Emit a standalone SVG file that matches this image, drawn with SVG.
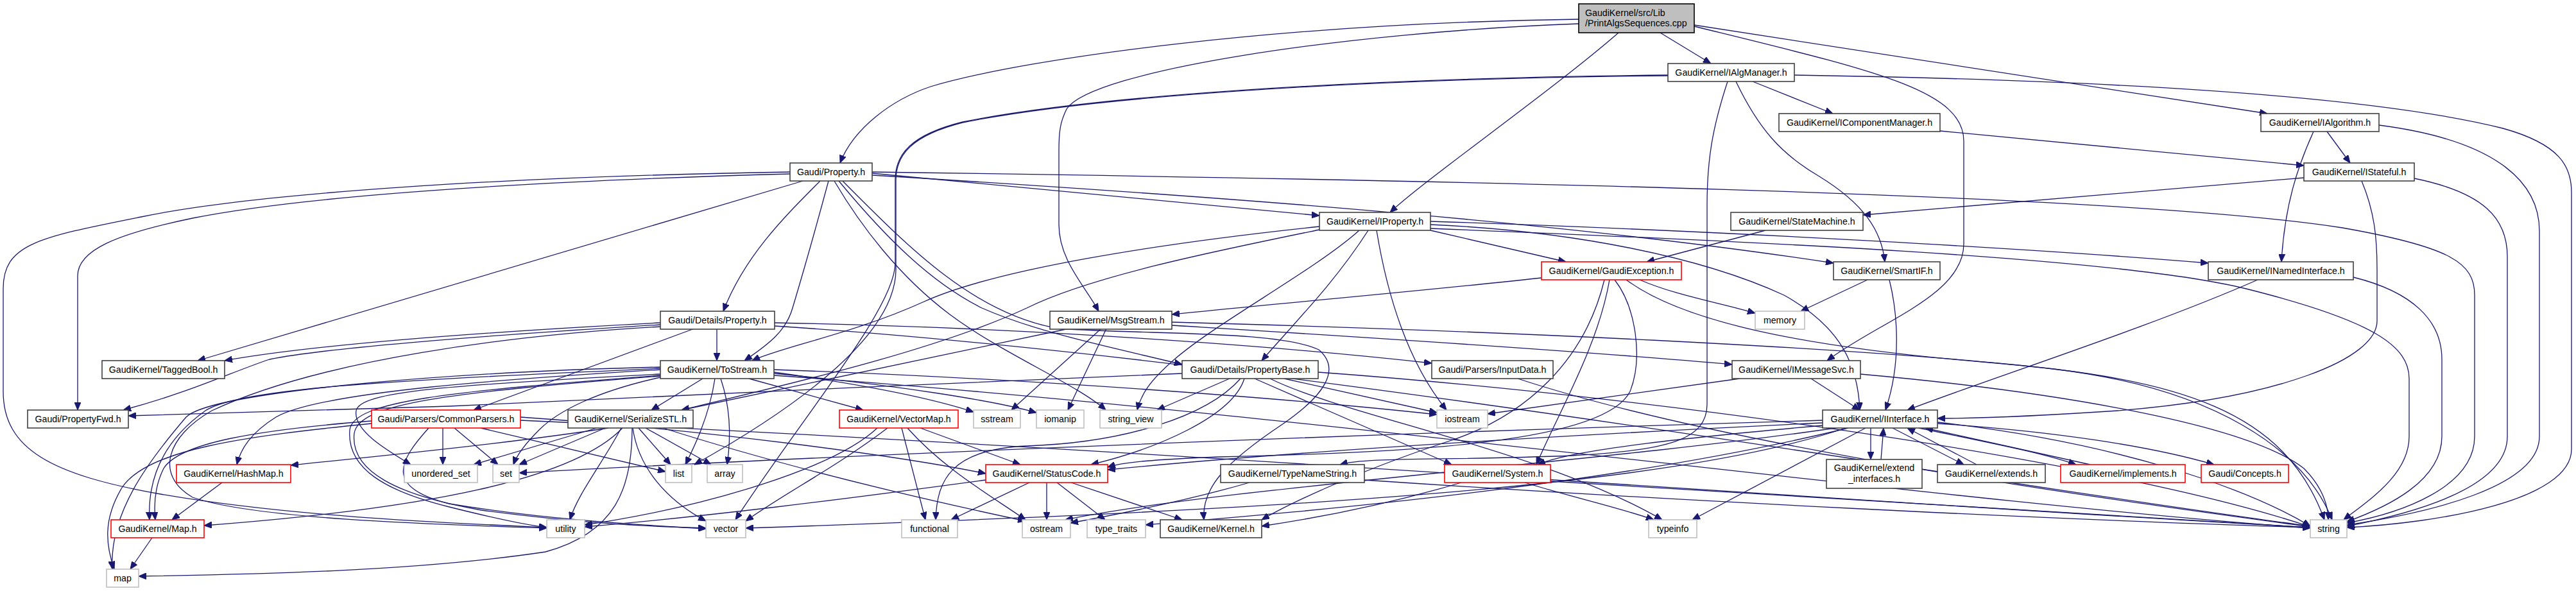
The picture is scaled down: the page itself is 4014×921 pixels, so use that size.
<svg xmlns="http://www.w3.org/2000/svg" width="4014" height="921" viewBox="0 0 4014 921">
<defs>
<marker id="ah" viewBox="0 0 12 10" refX="12" refY="5" markerWidth="12" markerHeight="10" markerUnits="userSpaceOnUse" orient="auto">
<path d="M0,0 L12,5 L0,10 z" fill="#191970" stroke="#191970" stroke-width="1"/>
</marker>
<style>
.nd rect{fill:#ffffff;stroke:#404040;stroke-width:1.6}
.nd.red rect{stroke:#ff0000}
.nd.sys rect{stroke:#bfbfbf}
.nd.top rect{fill:#bfbfbf;stroke:#000000}
.nd text{font-family:"Liberation Sans",Arial,sans-serif;font-size:14.2px;fill:#000000;text-anchor:middle}
.nd.top text{text-anchor:start}
#edges path{fill:none;stroke:#191970;stroke-width:1.3;marker-end:url(#ah)}
</style>
</defs>
<rect x="0" y="0" width="4014" height="921" fill="#ffffff"/>
<g id="edges">
<path d="M2460,30 C2000,36 1600,90 1450,135 C1390,155 1330,200 1309,254"/>
<path d="M2460,37 C2100,50 1700,110 1662,170 C1652,190 1650,205 1650,235 L1650,350 C1650,405 1690,445 1712,485"/>
<path d="M2522,51 C2420,140 2220,280 2166,331"/>
<path d="M2587,51 L2666,99"/>
<path d="M2640,39 L3533,177"/>
<path d="M2640,41 C2920,110 3060,140 3060,220 L3060,380 C3060,460 2930,500 2847,562"/>
<path d="M2731,127 L2856,177"/>
<path d="M2705,127 C2740,200 2775,240 2835,275 C2905,318 2932,360 2937,408"/>
<path d="M2692,127 C2668,200 2660,250 2660,320 L2660,630 C2660,685 2600,702 2450,710 C2250,718 2130,712 2088,724"/>
<path d="M2599,117 C2100,122 1700,150 1500,190 C1420,210 1395,240 1395,280 L1395,410 C1395,480 1250,650 1146,810"/>
<path d="M2599,118 C2100,123 1700,151 1500,191 C1421,211 1396,241 1396,281 L1396,420 C1396,520 1250,630 1082,724"/>
<path d="M2796,117 C3300,125 3700,150 3900,200 C3990,225 4007,260 4007,300 L4007,700 C4007,780 3800,815 3657,822"/>
<path d="M3023,204 L3590,258"/>
<path d="M3626,205 L3662,254"/>
<path d="M3605,205 C3580,260 3560,320 3555,408"/>
<path d="M3707,195 C3900,220 3957,290 3957,360 L3957,680 C3957,760 3780,800 3657,818"/>
<path d="M3590,277 L2903,335"/>
<path d="M3680,282 C3700,330 3704,370 3704,420 L3704,500 C3704,560 3550,620 3300,640 C3150,650 3060,652 3019,652"/>
<path d="M3762,278 C3870,300 3907,340 3907,400 L3907,680 C3907,760 3760,800 3657,820"/>
<path d="M2751,359 L2566,408"/>
<path d="M1231,271 C900,280 500,300 300,340 C180,365 121,390 121,430 L121,639"/>
<path d="M1231,268 C800,275 400,300 220,338 C60,370 5,380 5,450 L5,610 C5,700 80,740 250,770 C450,805 700,815 852,822"/>
<path d="M1251,282 L308,562"/>
<path d="M1278,282 C1220,340 1160,400 1127,485"/>
<path d="M1291,282 C1270,360 1250,430 1235,480 C1225,515 1200,535 1160,562"/>
<path d="M1300,282 C1340,350 1400,430 1480,490 C1560,550 1680,600 1723,639"/>
<path d="M1307,282 C1380,370 1450,440 1530,480 C1620,520 1750,545 1842,568"/>
<path d="M1313,282 C1420,390 1520,490 1650,512 C1800,522 1990,515 2055,545 C2090,575 2065,615 2000,660 C1910,720 1872,760 1876,810"/>
<path d="M1359,270 L2056,336"/>
<path d="M1359,273 C1800,300 2400,340 2857,410"/>
<path d="M1359,268 C2200,280 3300,300 3650,355 C3820,385 3856,410 3856,460 L3856,680 C3856,760 3740,800 3657,815"/>
<path d="M2056,353 C1800,380 1550,420 1440,470 C1330,520 1220,540 1172,562"/>
<path d="M2056,358 C1900,390 1700,430 1600,480 C1450,550 1200,605 1062,639"/>
<path d="M2118,359 C2050,420 1900,500 1830,560 C1790,595 1778,615 1772,639"/>
<path d="M2132,359 C2080,440 2020,500 1966,562"/>
<path d="M2145,359 C2160,450 2190,560 2254,639"/>
<path d="M2229,359 L2440,408"/>
<path d="M2229,350 C2450,360 2650,400 2780,460 C2870,510 2895,570 2898,639"/>
<path d="M2229,345 C2700,360 3200,390 3441,410"/>
<path d="M2229,356 C2700,375 3300,400 3500,450 C3700,500 3754,540 3754,590 L3754,680 C3754,740 3690,780 3652,810"/>
<path d="M2402,433 C2200,455 2000,472 1826,490"/>
<path d="M2555,436 C2610,460 2680,472 2735,488"/>
<path d="M2534,436 C2620,500 2800,540 3100,565 C3400,590 3560,640 3622,810"/>
<path d="M2516,436 C2550,480 2560,560 2540,610 C2500,690 2200,705 1900,712 C1800,716 1750,720 1726,728"/>
<path d="M2508,436 C2490,540 2430,640 2394,724"/>
<path d="M2500,436 C2470,560 2380,650 2250,690 C2100,740 2000,790 1966,810"/>
<path d="M2910,436 L2806,485"/>
<path d="M2944,436 C2955,480 2965,560 2938,639"/>
<path d="M3518,436 C3350,510 3100,590 2972,639"/>
<path d="M3667,432 C3760,455 3805,500 3805,560 L3805,680 C3805,750 3720,790 3657,813"/>
<path d="M2711,590 L2318,645"/>
<path d="M2822,590 L2898,639"/>
<path d="M2899,583 C3200,610 3500,660 3590,730 C3620,760 3628,790 3628,810"/>
<path d="M1666,512 L1062,639"/>
<path d="M1716,512 L1576,639"/>
<path d="M1724,512 L1664,639"/>
<path d="M1826,502 C2300,515 2900,540 3200,575 C3450,605 3590,700 3634,810"/>
<path d="M1826,507 C2200,530 2500,550 2699,568"/>
<path d="M1117,513 L1117,562"/>
<path d="M1082,512 L738,639"/>
<path d="M1029,503 C800,515 500,535 350,562"/>
<path d="M1029,506 C800,520 520,540 420,560 C360,580 300,610 192,639"/>
<path d="M1029,509 C800,522 500,560 330,640 C260,680 240,740 300,775 C400,810 700,818 852,823"/>
<path d="M1207,503 C1600,510 2000,540 2231,566"/>
<path d="M1207,508 C2000,560 3000,740 3600,820"/>
<path d="M1029,576 C800,590 500,610 430,650 C390,675 375,700 369,724"/>
<path d="M1029,574 C700,590 380,600 320,640 C250,690 230,750 233,810"/>
<path d="M1029,572 C700,580 330,610 290,650 C230,720 170,800 175,887"/>
<path d="M1029,583 C700,600 560,610 555,640 C550,670 600,700 640,724"/>
<path d="M1029,585 C700,610 550,625 545,670 C540,730 600,765 700,790 C780,810 820,818 852,822"/>
<path d="M1029,586 C700,612 560,628 552,675 C545,735 620,772 750,795 C900,815 1000,820 1100,823"/>
<path d="M1029,588 C930,610 870,640 840,670 C815,695 805,710 800,724"/>
<path d="M1095,590 L1015,639"/>
<path d="M1114,590 C1105,650 1080,700 1068,724"/>
<path d="M1123,590 C1140,640 1138,690 1133,724"/>
<path d="M1167,590 L1345,639"/>
<path d="M1206,580 C1350,600 1450,620 1517,642"/>
<path d="M1206,582 C1400,600 1550,625 1615,643"/>
<path d="M1206,576 C1600,590 2000,620 2239,646"/>
<path d="M1206,585 C2000,640 3000,780 3600,823"/>
<path d="M1842,582 C1500,595 1000,620 700,633 C500,640 300,645 200,648"/>
<path d="M1916,590 L1803,639"/>
<path d="M1933,590 C1880,650 1750,690 1600,695 C1480,700 1460,750 1458,810"/>
<path d="M1939,590 C1920,650 1800,700 1700,724"/>
<path d="M1955,590 L2262,724"/>
<path d="M1979,590 C2100,650 2400,700 2590,810"/>
<path d="M2001,590 L2239,643"/>
<path d="M2054,580 C2600,620 3300,720 3600,821"/>
<path d="M2365,590 C2700,700 3300,780 3600,821"/>
<path d="M579,656 C400,670 280,690 255,730 C240,760 240,790 242,810"/>
<path d="M579,660 C380,680 230,700 190,760 C160,810 165,850 178,887"/>
<path d="M690,667 L690,724"/>
<path d="M708,667 L776,724"/>
<path d="M749,667 L1037,735"/>
<path d="M668,667 C620,720 600,760 700,785 C850,810 1000,818 1100,824"/>
<path d="M811,650 C1100,670 1400,710 1536,738"/>
<path d="M811,655 C1800,700 3000,790 3600,822"/>
<path d="M948,667 C800,690 600,710 453,725"/>
<path d="M970,667 C900,740 700,790 318,819"/>
<path d="M985,667 C985,760 960,830 850,860 C650,890 400,895 216,898"/>
<path d="M930,667 L738,724"/>
<path d="M943,667 L809,724"/>
<path d="M968,667 C940,720 900,770 888,810"/>
<path d="M986,667 C995,730 1040,780 1100,812"/>
<path d="M995,667 L1045,724"/>
<path d="M1006,667 L1108,724"/>
<path d="M1033,667 C1200,720 1400,770 1598,812"/>
<path d="M1367,667 C1300,730 1100,790 911,818"/>
<path d="M1383,667 C1300,730 1220,770 1162,812"/>
<path d="M1405,667 L1442,810"/>
<path d="M1414,667 C1470,730 1540,770 1598,810"/>
<path d="M1434,667 L1590,724"/>
<path d="M346,752 L268,810"/>
<path d="M237,838 L203,887"/>
<path d="M1604,752 L1482,810"/>
<path d="M1631,752 L1631,810"/>
<path d="M1647,752 L1722,810"/>
<path d="M1669,752 L1842,810"/>
<path d="M1536,748 C1300,780 1100,805 911,821"/>
<path d="M1947,752 C1850,780 1750,800 1668,815"/>
<path d="M2126,748 C2600,780 3200,810 3600,822"/>
<path d="M2277,752 C2200,775 2100,800 1966,820"/>
<path d="M2376,752 C2450,775 2520,790 2577,810"/>
<path d="M2416,750 C2900,780 3300,805 3600,822"/>
<path d="M2840,663 C2650,680 2450,700 2396,724"/>
<path d="M2840,655 C2000,680 1200,715 809,737"/>
<path d="M2840,659 C2400,680 2000,705 1726,732"/>
<path d="M2876,667 C2600,760 2000,795 1162,823"/>
<path d="M2907,667 L2637,810"/>
<path d="M2915,667 L2915,716"/>
<path d="M2949,667 L3060,724"/>
<path d="M2990,667 C3100,690 3180,705 3235,724"/>
<path d="M3019,660 C3200,672 3350,695 3450,724"/>
<path d="M3019,658 C3300,690 3500,760 3600,820"/>
<path d="M2880,667 C2500,760 2000,800 1785,818"/>
<path d="M2860,667 C2500,720 1900,760 1660,810"/>
<path d="M2931,716 L2935,667"/>
<path d="M3080,724 L2972,667"/>
<path d="M3257,724 C3150,700 3060,680 3000,667"/>
</g>
<g id="n0" class="nd top"><rect x="2460" y="6" width="180" height="45"/><text x="2470" y="24.5">GaudiKernel/src/Lib</text><text x="2470" y="41">/PrintAlgsSequences.cpp</text></g>
<g id="n_iam" class="nd"><rect x="2599" y="99" width="197" height="28"/><text x="2697.5" y="117.5">GaudiKernel/IAlgManager.h</text></g>
<g id="n_icm" class="nd"><rect x="2772" y="177" width="251" height="28"/><text x="2897.5" y="195.5">GaudiKernel/IComponentManager.h</text></g>
<g id="n_ialg" class="nd"><rect x="3523" y="177" width="184" height="28"/><text x="3615" y="195.5">GaudiKernel/IAlgorithm.h</text></g>
<g id="n_ist" class="nd"><rect x="3590" y="254" width="172" height="28"/><text x="3676" y="272.5">GaudiKernel/IStateful.h</text></g>
<g id="n_prop" class="nd"><rect x="1231" y="254" width="128" height="28"/><text x="1295" y="272.5">Gaudi/Property.h</text></g>
<g id="n_ipr" class="nd"><rect x="2056" y="331" width="173" height="28"/><text x="2142.5" y="349.5">GaudiKernel/IProperty.h</text></g>
<g id="n_sm" class="nd"><rect x="2697" y="331" width="206" height="28"/><text x="2800" y="349.5">GaudiKernel/StateMachine.h</text></g>
<g id="n_gex" class="nd red"><rect x="2402" y="408" width="218" height="28"/><text x="2511" y="426.5">GaudiKernel/GaudiException.h</text></g>
<g id="n_sif" class="nd"><rect x="2857" y="408" width="166" height="28"/><text x="2940" y="426.5">GaudiKernel/SmartIF.h</text></g>
<g id="n_inm" class="nd"><rect x="3441" y="408" width="226" height="28"/><text x="3554" y="426.5">GaudiKernel/INamedInterface.h</text></g>
<g id="n_dprop" class="nd"><rect x="1029" y="485" width="178" height="28"/><text x="1118" y="503.5">Gaudi/Details/Property.h</text></g>
<g id="n_msg" class="nd"><rect x="1636" y="485" width="190" height="28"/><text x="1731" y="503.5">GaudiKernel/MsgStream.h</text></g>
<g id="n_mem" class="nd sys"><rect x="2735" y="485" width="77" height="28"/><text x="2773.5" y="503.5">memory</text></g>
<g id="n_tb" class="nd"><rect x="159" y="562" width="191" height="28"/><text x="254.5" y="580.5">GaudiKernel/TaggedBool.h</text></g>
<g id="n_ts" class="nd"><rect x="1029" y="562" width="177" height="28"/><text x="1117.5" y="580.5">GaudiKernel/ToStream.h</text></g>
<g id="n_pb" class="nd"><rect x="1842" y="562" width="212" height="28"/><text x="1948" y="580.5">Gaudi/Details/PropertyBase.h</text></g>
<g id="n_in" class="nd"><rect x="2231" y="562" width="189" height="28"/><text x="2325.5" y="580.5">Gaudi/Parsers/InputData.h</text></g>
<g id="n_ims" class="nd"><rect x="2699" y="562" width="200" height="28"/><text x="2799" y="580.5">GaudiKernel/IMessageSvc.h</text></g>
<g id="n_pf" class="nd"><rect x="43" y="639" width="157" height="28"/><text x="121.5" y="657.5">Gaudi/PropertyFwd.h</text></g>
<g id="n_cp" class="nd red"><rect x="579" y="639" width="232" height="28"/><text x="695" y="657.5">Gaudi/Parsers/CommonParsers.h</text></g>
<g id="n_ss" class="nd"><rect x="885" y="639" width="195" height="28"/><text x="982.5" y="657.5">GaudiKernel/SerializeSTL.h</text></g>
<g id="n_vm" class="nd red"><rect x="1308" y="639" width="185" height="28"/><text x="1400.5" y="657.5">GaudiKernel/VectorMap.h</text></g>
<g id="n_sst" class="nd sys"><rect x="1517" y="639" width="73" height="28"/><text x="1553.5" y="657.5">sstream</text></g>
<g id="n_iom" class="nd sys"><rect x="1615" y="639" width="74" height="28"/><text x="1652" y="657.5">iomanip</text></g>
<g id="n_sv" class="nd sys"><rect x="1714" y="639" width="96" height="28"/><text x="1762" y="657.5">string_view</text></g>
<g id="n_ios" class="nd sys"><rect x="2239" y="639" width="79" height="28"/><text x="2278.5" y="657.5">iostream</text></g>
<g id="n_ii" class="nd"><rect x="2840" y="639" width="179" height="28"/><text x="2929.5" y="657.5">GaudiKernel/IInterface.h</text></g>
<g id="n_hm" class="nd red"><rect x="275" y="724" width="178" height="28"/><text x="364" y="742.5">GaudiKernel/HashMap.h</text></g>
<g id="n_us" class="nd sys"><rect x="630" y="724" width="114" height="28"/><text x="687" y="742.5">unordered_set</text></g>
<g id="n_set" class="nd sys"><rect x="768" y="724" width="41" height="28"/><text x="788.5" y="742.5">set</text></g>
<g id="n_list" class="nd sys"><rect x="1037" y="724" width="41" height="28"/><text x="1057.5" y="742.5">list</text></g>
<g id="n_arr" class="nd sys"><rect x="1102" y="724" width="55" height="28"/><text x="1129.5" y="742.5">array</text></g>
<g id="n_sc" class="nd red"><rect x="1536" y="724" width="190" height="28"/><text x="1631" y="742.5">GaudiKernel/StatusCode.h</text></g>
<g id="n_tns" class="nd"><rect x="1902" y="724" width="224" height="28"/><text x="2014" y="742.5">GaudiKernel/TypeNameString.h</text></g>
<g id="n_sys" class="nd red"><rect x="2251" y="724" width="165" height="28"/><text x="2333.5" y="742.5">GaudiKernel/System.h</text></g>
<g id="n_ei" class="nd"><rect x="2846" y="716" width="149" height="45"/><text x="2920.5" y="734">GaudiKernel/extend</text><text x="2920.5" y="750.5">_interfaces.h</text></g>
<g id="n_ext" class="nd"><rect x="3019" y="724" width="168" height="28"/><text x="3103" y="742.5">GaudiKernel/extends.h</text></g>
<g id="n_impl" class="nd red"><rect x="3211" y="724" width="194" height="28"/><text x="3308" y="742.5">GaudiKernel/implements.h</text></g>
<g id="n_con" class="nd red"><rect x="3430" y="724" width="136" height="28"/><text x="3498" y="742.5">Gaudi/Concepts.h</text></g>
<g id="n_Map" class="nd red"><rect x="173" y="810" width="145" height="28"/><text x="245.5" y="828.5">GaudiKernel/Map.h</text></g>
<g id="n_util" class="nd sys"><rect x="852" y="810" width="59" height="28"/><text x="881.5" y="828.5">utility</text></g>
<g id="n_vec" class="nd sys"><rect x="1100" y="810" width="62" height="28"/><text x="1131" y="828.5">vector</text></g>
<g id="n_fun" class="nd sys"><rect x="1405" y="810" width="87" height="28"/><text x="1448.5" y="828.5">functional</text></g>
<g id="n_ost" class="nd sys"><rect x="1593" y="810" width="75" height="28"/><text x="1630.5" y="828.5">ostream</text></g>
<g id="n_tt" class="nd sys"><rect x="1694" y="810" width="91" height="28"/><text x="1739.5" y="828.5">type_traits</text></g>
<g id="n_ker" class="nd"><rect x="1808" y="810" width="158" height="28"/><text x="1887" y="828.5">GaudiKernel/Kernel.h</text></g>
<g id="n_ti" class="nd sys"><rect x="2569" y="810" width="75" height="28"/><text x="2606.5" y="828.5">typeinfo</text></g>
<g id="n_str" class="nd sys"><rect x="3600" y="810" width="57" height="28"/><text x="3628.5" y="828.5">string</text></g>
<g id="n_map" class="nd sys"><rect x="166" y="887" width="50" height="28"/><text x="191" y="905.5">map</text></g>
</svg>
